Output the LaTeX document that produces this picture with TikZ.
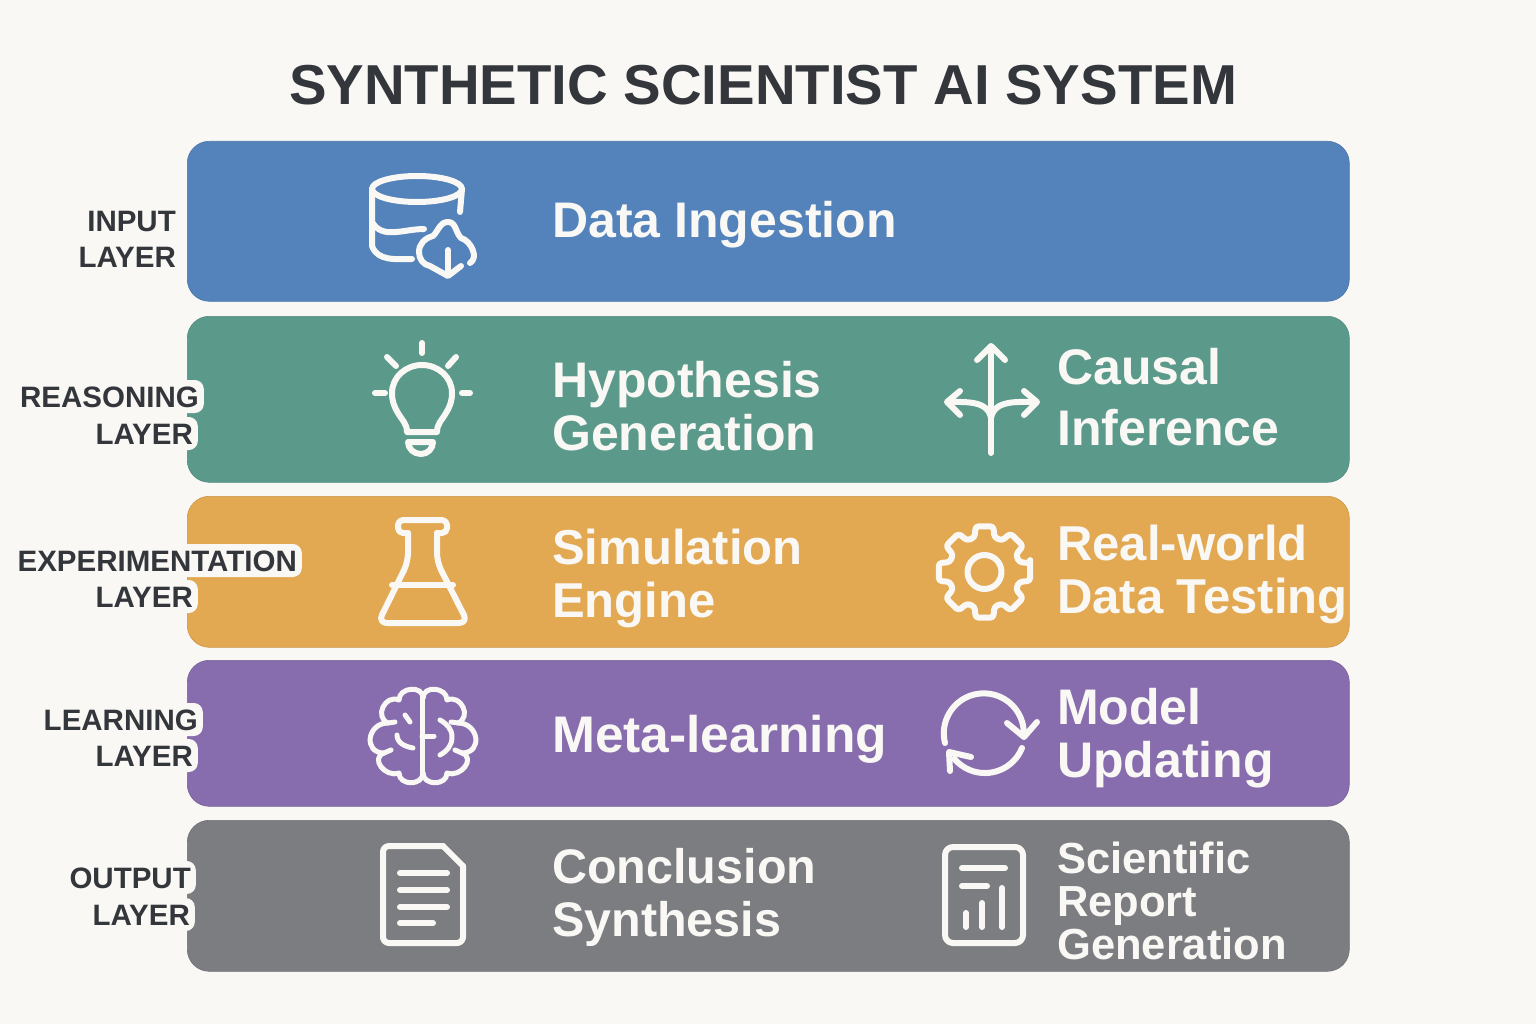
\documentclass[tikz,border=0pt]{standalone}
\usepackage{fontspec}
\usetikzlibrary{positioning}
\setmainfont{Liberation Sans}
\definecolor{PageBack}{HTML}{FAF8F5}
\definecolor{InkDark}{HTML}{33363B}
\definecolor{IconWhite}{HTML}{F9F8F5}
\definecolor{BandBlue}{HTML}{5383BA}
\definecolor{BandGreen}{HTML}{5B9A8B}
\definecolor{BandOrange}{HTML}{E2A852}
\definecolor{BandPurple}{HTML}{876DAD}
\definecolor{BandGray}{HTML}{7B7D81}
\tikzset{
  bandbox/.style={rectangle, rounded corners=22pt, minimum width=1162pt, inner sep=0pt, anchor=north west, fill=#1, draw=#1!90!black, line width=0.6pt},
  bandtext/.style={font=\bfseries\fontsize{50}{#1}\selectfont, text=IconWhite, align=left, anchor=west, inner sep=0pt},
  bandtext/.default=53,
  smalltext/.style={font=\bfseries\fontsize{43.5}{43}\selectfont, text=IconWhite, align=left, anchor=west, inner sep=0pt},
  iconline/.style={draw=IconWhite, line width=6pt, line cap=round, line join=round},
  brainline/.style={iconline, line width=5pt},
  layerword/.style={font=\bfseries\fontsize{29.5}{29.5}\selectfont, text=InkDark, fill=PageBack, rounded corners=9pt, anchor=base east, inner xsep=5pt, inner ysep=5pt, text height=22pt, text depth=1pt}
}
\begin{document}
\begin{tikzpicture}[x=1pt,y=-1pt]
  \useasboundingbox (0,0) rectangle (1536,1024);
  \fill[PageBack] (0,0) rectangle (1536,1024);

  \node[font=\bfseries\fontsize{56.3}{58}\selectfont, text=InkDark, inner sep=0pt] (title) at (763,85) {SYNTHETIC SCIENTIST AI SYSTEM};

  % bands
  \node[bandbox=BandBlue, minimum height=160pt] (input) at (187,141) {};
  \node[bandbox=BandGreen, minimum height=166pt] (reasoning) at (187,316) {};
  \node[bandbox=BandOrange, minimum height=151pt] (experiment) at (187,496) {};
  \node[bandbox=BandPurple, minimum height=146pt] (learning) at (187,660) {};
  \node[bandbox=BandGray, minimum height=151pt] (output) at (187,820) {};

  % layer names
  \node[layerword] (inputA) at (181,232) {INPUT};
  \node[layerword] (inputB) at (181,268) {LAYER};
  \node[layerword] (reasonA) at (204,407) {REASONING};
  \node[layerword] (reasonB) at (198,444) {LAYER};
  \node[layerword] (experB) at (198,607) {LAYER};
  \node[layerword] (experA) at (302,571) {EXPERIMENTATION};
  \node[layerword] (learnA) at (203,730) {LEARNING};
  \node[layerword] (learnB) at (198,766) {LAYER};
  \node[layerword] (outA) at (196,888) {OUTPUT};
  \node[layerword] (outB) at (195,925) {LAYER};

  % band labels
  \node[bandtext] (ingest) at (552,225) {Data Ingestion};
  \node[bandtext] (hypo) at (552,406) {Hypothesis\\Generation};
  \node[bandtext=61] (causal) at (1057,397) {Causal\\Inference};
  \node[bandtext, font=\bfseries\fontsize{49}{53}\selectfont] (simul) at (552,578) {Simulation\\Engine};
  \node[bandtext, font=\bfseries\fontsize{49}{53}\selectfont] (realw) at (1057,574) {Real-world\\Data Testing};
  \node[bandtext, font=\bfseries\fontsize{51.5}{53}\selectfont] (meta) at (552,739) {Meta-learning};
  \node[bandtext] (model) at (1057,738) {Model\\Updating};
  \node[bandtext, font=\bfseries\fontsize{48.5}{53}\selectfont] (concl) at (552,897) {Conclusion\\Synthesis};
  \node[smalltext] (report) at (1057,901) {Scientific\\Report\\Generation};

  % database with cloud
  \draw[iconline] (417,189) ellipse[x radius=45, y radius=13];
  \draw[iconline] (372,189) -- (372,246) to[out=-70,in=180] (412,259);
  \draw[iconline] (372,222) to[out=-60,in=180] (424,229);
  \draw[iconline] (462,189) -- (460,212);
  \draw[iconline] (470,263) to[out=30,in=-15] (461,238) to[out=135,in=0] (448,222) to[out=180,in=45] (433,236) to[out=-165,in=90] (419,252) to[out=-90,in=170] (430,266) -- (448,276) -- (461,266);
  \draw[iconline] (448,250) -- (448,275);

  % bulb
  \draw[iconline] (407,432) to[out=90,in=-60] (398,413) to[out=120,in=-90] (392,393) to[out=90,in=180] (422,365) to[out=0,in=90] (452,393) to[out=-90,in=60] (446,413) to[out=-120,in=90] (437,432) -- cycle;
  \draw[iconline] (408,442) -- (433,442) to[out=-90,in=0] (421,454) to[out=180,in=-90] (408,442) -- cycle;
  \draw[iconline] (422,343) -- (422,353);
  \draw[iconline] (387,357) -- (396,366);
  \draw[iconline] (448,366) -- (456,357);
  \draw[iconline] (375,393) -- (385,393);
  \draw[iconline] (462,393) -- (470,393);

  % forked arrows
  \draw[iconline] (991,347) -- (991,453);
  \draw[iconline] (977,360) -- (991,346) -- (1005,360);
  \draw[iconline] (991,418) to[out=100,in=0] (948,402);
  \draw[iconline] (991,418) to[out=80,in=180] (1036,402);
  \draw[iconline] (960,391) -- (947,402) -- (960,415);
  \draw[iconline] (1024,391) -- (1037,402) -- (1024,415);

  % flask
  \draw[iconline, rounded corners=5pt] (408,533) -- (398,533) -- (398,520) -- (447,520) -- (447,533) -- (437,533);
  \draw[iconline, rounded corners=9pt] (408,533) -- (408,562) -- (378,623) -- (468,623) -- (437,562) -- (437,533);
  \draw[iconline] (392,585) -- (453,585);

  % gear
  \draw[iconline, rounded corners=3pt, shift={(984.5,572)}] (-11:46.5) foreach \a in {0,45,...,315} { -- (\a-11:46.5) -- (\a+11:46.5) -- (\a+16:36) -- (\a+29:36) } -- cycle;
  \draw[iconline] (984.5,572) circle[radius=17];

  % brain
  \foreach \s in {1,-1} {
    \begin{scope}[shift={(423,0)}, xscale=\s]
      \draw[brainline] (0,698) .. controls (0,685) and (24,687) .. (24,700) .. controls (38,694) and (49,717) .. (35,723) .. controls (56,723) and (60,753) .. (39,753) .. controls (53,758) and (38,778) .. (24,773) .. controls (24,786) and (0,786) .. (0,773);
      \draw[brainline] (35,723) -- (28,722);
      \draw[brainline] (39,753) -- (32,750);
    \end{scope}
  }
  \draw[brainline] (422,698) -- (422,773);
  \draw[brainline] (422,736) -- (434,736);
  \draw[brainline] (440,720) to[out=-30,in=90] (452,737) to[out=-90,in=30] (440,755);
  \draw[brainline] (397,735) to[out=-90,in=170] (413,748);
  \draw[brainline] (405,715) -- (410,722);

  % refresh
  \draw[iconline] (945,743) arc[start angle=166, end angle=360, radius=40];
  \draw[iconline] (1007,723) -- (1024,737) -- (1037,722);
  \draw[iconline] (1022,748) arc[start angle=22, end angle=140, radius=40];
  \draw[iconline] (971,757) -- (949,752) -- (950,771);

  % document
  \draw[iconline, rounded corners=6pt] (443,846) -- (383,846) -- (383,943) -- (463,943) -- (463,866);
  \draw[iconline] (443,846) -- (463,866);
  \draw[iconline] (400,873) -- (447,873);
  \draw[iconline] (400,890) -- (447,890);
  \draw[iconline] (400,907) -- (447,907);
  \draw[iconline] (400,923) -- (433,923);

  % report chart
  \draw[iconline, rounded corners=8pt] (945,847) rectangle (1023,943);
  \draw[iconline] (962,868) -- (1005,868);
  \draw[iconline] (962,886) -- (987,886);
  \draw[iconline] (966,913) -- (966,927);
  \draw[iconline] (982,903) -- (982,927);
  \draw[iconline] (1002,888) -- (1002,927);
\end{tikzpicture}
\end{document}
